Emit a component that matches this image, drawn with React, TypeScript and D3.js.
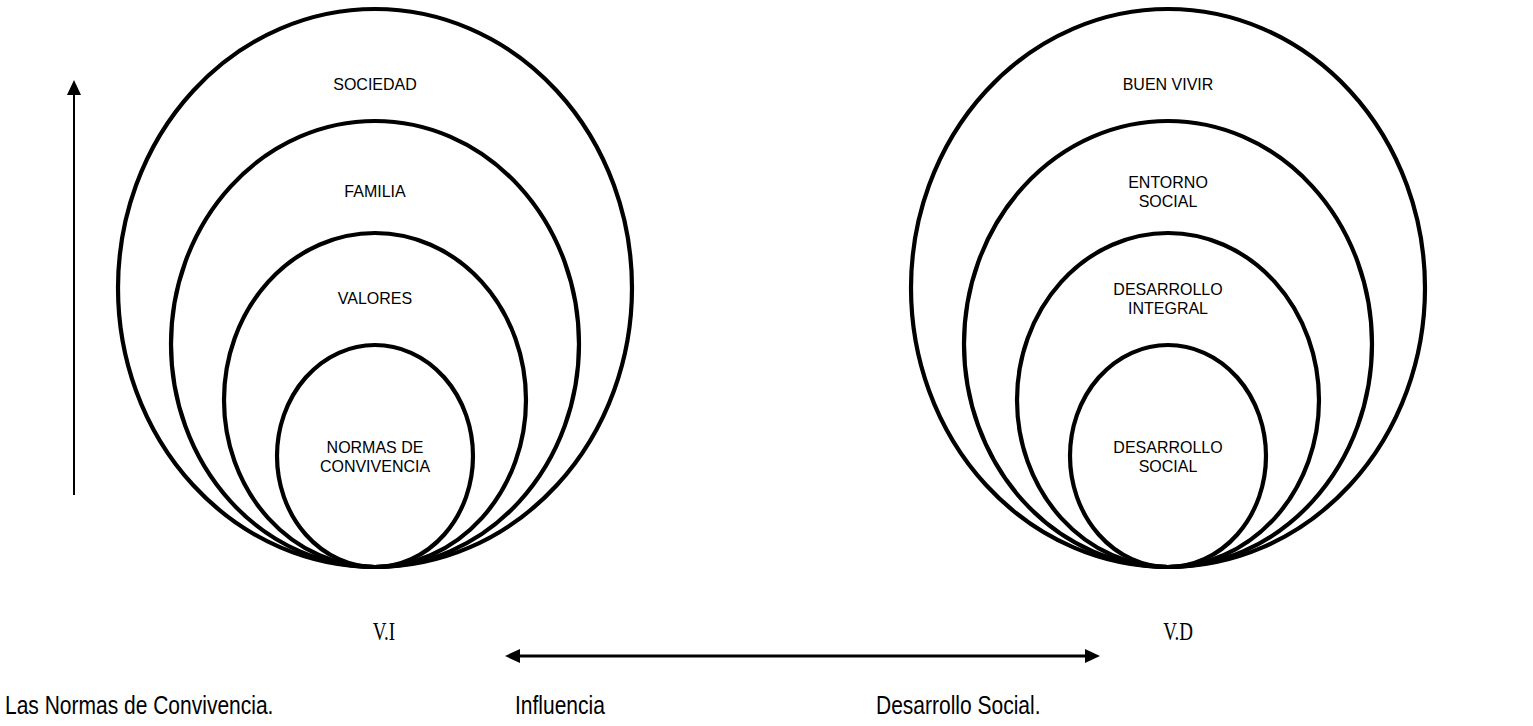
import React from "react";
import * as d3 from "d3";

// ---- data ----
const levels = [5, 4, 3, 2]; // relative ring sizes, outer -> inner
const leftLabels = ["SOCIEDAD", "FAMILIA", "VALORES", "NORMAS DE\nCONVIVENCIA"];
const rightLabels = ["BUEN VIVIR", "ENTORNO\nSOCIAL", "DESARROLLO\nINTEGRAL", "DESARROLLO\nSOCIAL"];
const variableTags = ["V.I", "V.D"];
const bottomTexts = ["Las Normas de Convivencia.", "Influencia", "Desarrollo Social."];

const W = 1533;
const H = 726;

export default function App() {
  const baseY = 567;
  const rx = d3.scaleLinear().domain([2, 5]).range([98, 257]);
  const ry = d3.scaleLinear().domain([2, 5]).range([111, 279]);
  const labelY = d3.scaleLinear().domain([5, 3]).range([84, 298]);
  const groupX = d3.scalePoint<number>().domain([0, 1]).range([375, 1168]);

  const labelFont = "'Liberation Sans', Arial, sans-serif";
  const serifFont = "'Liberation Serif', 'Times New Roman', serif";

  const renderGroup = (gi: number, labels: string[]) => {
    const cx = groupX(gi)!;
    return (
      <g key={gi}>
        {levels.map((k) => (
          <ellipse
            key={k}
            cx={cx}
            cy={baseY - ry(k)}
            rx={rx(k)}
            ry={ry(k)}
            fill="none"
            stroke="#000"
            strokeWidth={4.2}
          />
        ))}
        {levels.map((k, i) => {
          const isInner = i === levels.length - 1;
          const cy = isInner ? baseY - ry(k) : labelY(k);
          const lines = labels[i].split("\n");
          const lh = 19;
          return (
            <g key={"t" + k} transform={`translate(${cx},${cy}) scale(1,1.08)`}>
              <text textAnchor="middle" fontFamily={labelFont} fontSize={16} fill="#000">
                {lines.map((ln, j) => (
                  <tspan key={j} x={0} y={((j - (lines.length - 1) / 2) * lh) / 1.08} dy="0.35em">
                    {ln}
                  </tspan>
                ))}
              </text>
            </g>
          );
        })}
      </g>
    );
  };

  const arrowHead = (tipX: number, tipY: number, dir: "left" | "right" | "up") => {
    const L = 15;
    const hw = 7;
    let pts: [number, number][];
    if (dir === "left") pts = [[tipX, tipY], [tipX + L, tipY - hw], [tipX + L, tipY + hw]];
    else if (dir === "right") pts = [[tipX, tipY], [tipX - L, tipY - hw], [tipX - L, tipY + hw]];
    else pts = [[tipX, tipY], [tipX - hw, tipY + L], [tipX + hw, tipY + L]];
    return <path d={d3.line()(pts)! + "Z"} fill="#000" />;
  };

  const stretched = (x: number, y: number, s: string, font: string, size: number, anchor = "start", sy = 1.25) => (
    <g transform={`translate(${x},${y}) scale(1,${sy})`}>
      <text x={0} y={0} textAnchor={anchor} fontFamily={font} fontSize={size} fill="#000">
        {s}
      </text>
    </g>
  );

  return (
    <svg
      width={W}
      height={H}
      style={{ position: "absolute", left: 0, top: 0, background: "#fff" }}
    >
      <rect width={W} height={H} fill="#fff" />
      {renderGroup(0, leftLabels)}
      {renderGroup(1, rightLabels)}

      {/* vertical arrow */}
      <line x1={74} x2={74} y1={495} y2={90} stroke="#000" strokeWidth={2} />
      {arrowHead(74, 80, "up")}

      {/* variable tags */}
      {stretched(384, 640, variableTags[0], serifFont, 19, "middle", 1.3)}
      {stretched(1178, 640, variableTags[1], serifFont, 19, "middle", 1.3)}

      {/* horizontal double arrow */}
      <line x1={515} x2={1090} y1={656} y2={656} stroke="#000" strokeWidth={3} />
      {arrowHead(505, 656, "left")}
      {arrowHead(1100, 656, "right")}

      {/* bottom texts */}
      {stretched(5, 714, bottomTexts[0], labelFont, 21)}
      {stretched(515, 714, bottomTexts[1], labelFont, 21)}
      {stretched(876, 714, bottomTexts[2], labelFont, 21)}
    </svg>
  );
}
